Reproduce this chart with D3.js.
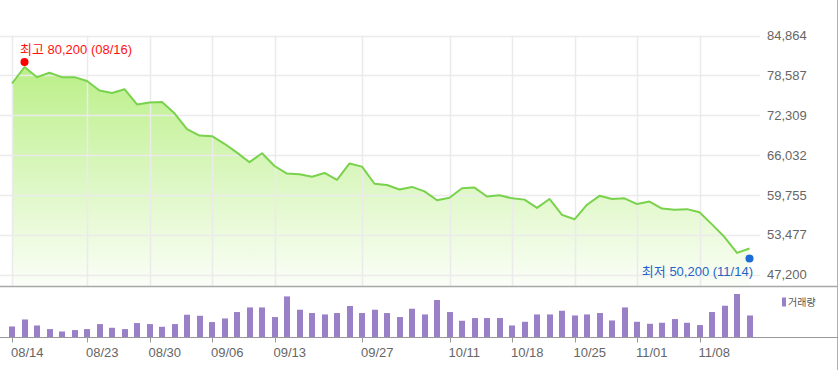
<!DOCTYPE html>
<html>
<head>
<meta charset="utf-8">
<script src="https://cdn.jsdelivr.net/npm/d3@7"></script>
<style>
  body { margin: 0; background: #fff; }
  svg { display: block; font-family: 'Liberation Sans', 'Noto Sans CJK KR', sans-serif; }
</style>
</head>
<body>
<div class="canvas"></div>
<script>
// trading days
const dates = [
  '08/14', '08/16', '08/19', '08/20', '08/21', '08/22', '08/23', '08/26', '08/27', '08/28', '08/29', '08/30',
  '09/02', '09/03', '09/04', '09/05', '09/06', '09/09', '09/10', '09/11', '09/12', '09/13',
  '09/19', '09/20', '09/23', '09/24', '09/25', '09/26', '09/27', '09/30',
  '10/02', '10/04', '10/07', '10/08', '10/10', '10/11', '10/14', '10/15', '10/16', '10/17', '10/18',
  '10/21', '10/22', '10/23', '10/24', '10/25', '10/28', '10/29', '10/30', '10/31',
  '11/01', '11/04', '11/05', '11/06', '11/07', '11/08', '11/11', '11/12', '11/13', '11/14'
]
const prices = [
  77300, 79900, 78300, 79000, 78300, 78300, 77700, 76200, 75800, 76400, 74000, 74300,
  74400, 72600, 70100, 69100, 69000, 67800, 66400, 64900, 66300, 64300,
  63100, 63000, 62600, 63200, 62100, 64700, 64200, 61500,
  61300, 60600, 61000, 60300, 58900, 59300, 60800, 60900, 59500, 59700, 59200,
  59000, 57700, 59100, 56600, 55900, 58200, 59600, 59100, 59200,
  58300, 58700, 57600, 57400, 57500, 57000, 55100, 53100, 50600, 51300
]
const volumes = [
  1100, 1800, 1200, 840, 600, 740, 840, 1340, 970, 840, 1440, 1340,
  1070, 1340, 2270, 2170, 1540, 1900, 2540, 3000, 3000, 2040,
  4100, 2770, 2440, 2300, 2440, 3140, 2440, 2770,
  2440, 2040, 2870, 2300, 3740, 2540, 1670, 1940, 1940, 1940, 1200,
  1570, 2300, 2300, 2670, 2200, 2300, 2440, 1700, 3000,
  1570, 1370, 1470, 1840, 1470, 1240, 2540, 3170, 4340, 2200
]
const yTicks = [47200, 53477, 59755, 66032, 72309, 78587, 84864]
const xTicks = ['08/14', '08/23', '08/30', '09/06', '09/13', '09/27', '10/11', '10/18', '10/25', '11/01', '11/08']
const high = { date: '08/16', value: 80200, label: '최고 80,200 (08/16)' }
const low = { date: '11/14', value: 50200, label: '최저 50,200 (11/14)' }

const width = 838
const height = 370
const plotRight = 760
const priceTop = 35.5
const priceBottom = 286.5
const volBase = 337.5

const svg = d3
  .select('.canvas')
  .append('svg')
  .attr('width', width)
  .attr('height', height)

// Scales
const x = d3.scalePoint().domain(dates).range([12, 749.5])
const y = d3.scaleLinear().domain([47200, 84864]).range([274.5, priceTop])
const yVol = d3.scaleLinear().domain([0, d3.max(volumes)]).range([volBase, volBase - 43.5])

// gradient for area
const grad = svg
  .append('defs')
  .append('linearGradient')
  .attr('id', 'areaFill')
  .attr('gradientUnits', 'userSpaceOnUse')
  .attr('x1', 0).attr('x2', 0)
  .attr('y1', 60).attr('y2', priceBottom)
grad.append('stop').attr('offset', '0%').attr('stop-color', '#b9ef85')
grad.append('stop').attr('offset', '100%').attr('stop-color', '#fbfef8')

// Grid
const grid = svg.append('g').attr('class', 'grid')
grid
  .selectAll('line.h')
  .data(yTicks)
  .enter()
  .append('line')
  .attr('x1', 0)
  .attr('x2', plotRight)
  .attr('y1', d => Math.round(y(d)) + 0.5)
  .attr('y2', d => Math.round(y(d)) + 0.5)
  .attr('stroke', '#ebebeb')
  .attr('stroke-width', 1.5)

// Area + line
const data = dates.map((d, i) => ({ date: d, price: prices[i], volume: volumes[i] }))

const area = d3
  .area()
  .x(d => x(d.date))
  .y0(priceBottom)
  .y1(d => y(d.price))

svg
  .append('path')
  .datum(data)
  .attr('fill', 'url(#areaFill)')
  .attr('d', area)

grid
  .selectAll('line.v')
  .data(xTicks)
  .enter()
  .append('line')
  .attr('x1', d => Math.round(x(d)) + 0.5)
  .attr('x2', d => Math.round(x(d)) + 0.5)
  .attr('y1', priceTop)
  .attr('y2', priceBottom)
  .attr('stroke', '#ebebeb')
  .attr('stroke-width', 1.5)
grid.raise()

const line = d3
  .line()
  .x(d => x(d.date))
  .y(d => y(d.price))

svg
  .append('path')
  .datum(data)
  .attr('fill', 'none')
  .attr('stroke', '#79d24c')
  .attr('stroke-width', 2)
  .attr('stroke-linejoin', 'round')
  .attr('d', line)

// Panel borders
svg.append('line')
  .attr('x1', 0).attr('x2', width)
  .attr('y1', priceBottom).attr('y2', priceBottom)
  .attr('stroke', '#a8a8a8').attr('stroke-width', 1.5)
svg.append('line')
  .attr('x1', width - 0.5).attr('x2', width - 0.5)
  .attr('y1', 0).attr('y2', height)
  .attr('stroke', '#b0b0b0')

// Right axis labels
svg
  .append('g')
  .selectAll('text')
  .data(yTicks)
  .enter()
  .append('text')
  .attr('x', 767)
  .attr('y', d => y(d))
  .attr('dy', '0.36em')
  .attr('font-size', 13)
  .attr('fill', '#666')
  .text(d => d3.format(',')(d))

// High / low markers
svg.append('circle')
  .attr('cx', x(high.date)).attr('cy', y(high.value) - 3)
  .attr('r', 4).attr('fill', '#ff0000')
svg.append('text')
  .attr('x', 20).attr('y', y(high.value) - 11)
  .attr('font-size', 13).attr('fill', '#ff1111')
  .text(high.label)

svg.append('circle')
  .attr('cx', x(low.date)).attr('cy', y(low.value) + 3)
  .attr('r', 4).attr('fill', '#1c6bd6')
svg.append('text')
  .attr('x', 753).attr('y', y(low.value) + 21)
  .attr('text-anchor', 'end')
  .attr('font-size', 13).attr('fill', '#1f65c8')
  .text(low.label)

// Volume bars
svg
  .append('g')
  .selectAll('rect')
  .data(data)
  .enter()
  .append('rect')
  .attr('x', d => Math.round(x(d.date)) - 3)
  .attr('width', 6)
  .attr('y', d => yVol(d.volume))
  .attr('height', d => volBase - yVol(d.volume))
  .attr('fill', '#9a80c7')

svg.append('line')
  .attr('x1', 0).attr('x2', width)
  .attr('y1', volBase).attr('y2', volBase)
  .attr('stroke', '#999')

// x ticks and labels
const xAxisGroup = svg.append('g')
xAxisGroup
  .selectAll('line')
  .data(xTicks)
  .enter()
  .append('line')
  .attr('x1', d => Math.round(x(d)) + 0.5)
  .attr('x2', d => Math.round(x(d)) + 0.5)
  .attr('y1', volBase)
  .attr('y2', volBase + 5)
  .attr('stroke', '#999')
xAxisGroup
  .selectAll('text')
  .data(xTicks)
  .enter()
  .append('text')
  .attr('x', d => x(d) - 1)
  .attr('y', 357)
  .attr('font-size', 13)
  .attr('fill', '#666')
  .text(d => d)

// Legend
svg.append('rect')
  .attr('x', 782).attr('y', 297.5)
  .attr('width', 4).attr('height', 9)
  .attr('fill', '#9a80c7')
svg.append('text')
  .attr('x', 788).attr('y', 302)
  .attr('dy', '0.36em')
  .attr('font-size', 10)
  .attr('fill', '#555')
  .text('거래량')
</script>
</body>
</html>
